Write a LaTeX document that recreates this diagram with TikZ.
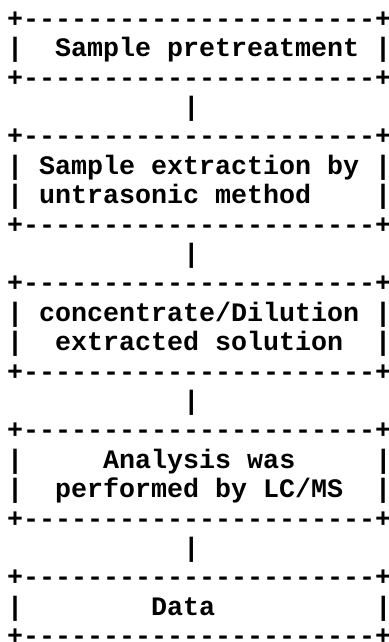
\documentclass[tikz,border=0pt]{standalone}
\usepackage{fontspec}
\setmonofont{Liberation Mono}
\usepackage{tikz}

\newcommand{\bord}{+----------------------+}

\begin{document}
\begin{tikzpicture}[row/.style={anchor=base west,inner ysep=0pt,inner xsep=-3pt,
    font=\ttfamily\bfseries\fontsize{26.67pt}{29.4pt}\selectfont}]
  \useasboundingbox[fill=white] (0pt,0pt) rectangle (388pt,-642pt);
  \node(r1)[row] at (10pt,-27.2pt) {\bord};
  \node(r2)[row] at (10pt,-56.6pt) {|~~Sample pretreatment~|};
  \node(r3)[row] at (10pt,-86.0pt) {\bord};
  \node(r4)[row] at (10pt,-115.4pt) {~~~~~~~~~~~|};
  \node(r5)[row] at (10pt,-144.8pt) {\bord};
  \node(r6)[row] at (10pt,-174.2pt) {|~Sample extraction by~|};
  \node(r7)[row] at (10pt,-203.6pt) {|~untrasonic method~~~~|};
  \node(r8)[row] at (10pt,-233.0pt) {\bord};
  \node(r9)[row] at (10pt,-262.4pt) {~~~~~~~~~~~|};
  \node(r10)[row] at (10pt,-291.8pt) {\bord};
  \node(r11)[row] at (10pt,-321.2pt) {|~concentrate/Dilution~|};
  \node(r12)[row] at (10pt,-350.6pt) {|~~extracted solution~~|};
  \node(r13)[row] at (10pt,-380.0pt) {\bord};
  \node(r14)[row] at (10pt,-409.4pt) {~~~~~~~~~~~|};
  \node(r15)[row] at (10pt,-438.8pt) {\bord};
  \node(r16)[row] at (10pt,-468.2pt) {|~~~~~Analysis was~~~~~|};
  \node(r17)[row] at (10pt,-497.6pt) {|~~performed by LC/MS~~|};
  \node(r18)[row] at (10pt,-527.0pt) {\bord};
  \node(r19)[row] at (10pt,-556.4pt) {~~~~~~~~~~~|};
  \node(r20)[row] at (10pt,-585.8pt) {\bord};
  \node(r21)[row] at (10pt,-615.2pt) {|~~~~~~~~Data~~~~~~~~~~|};
  \node(r22)[row] at (10pt,-644.6pt) {\bord};
\end{tikzpicture}
\end{document}
